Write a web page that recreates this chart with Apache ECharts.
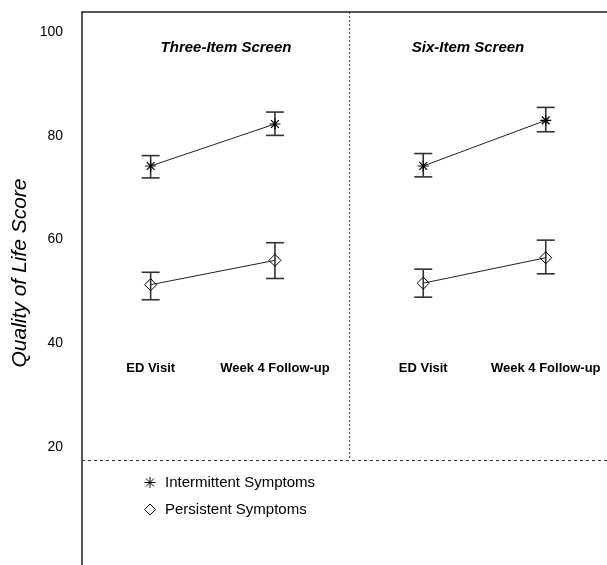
<!DOCTYPE html>
<html>
<head>
<meta charset="utf-8">
<script src="https://cdn.jsdelivr.net/npm/echarts@6/dist/echarts.min.js"></script>
<style>
html,body{margin:0;padding:0;background:#fff;}
#chart{width:607px;height:565px;}
</style>
</head>
<body>
<div id="chart"></div>
<script>
// ---- data ----
const categories = ['ED Visit', 'Week 4 Follow-up'];
const panelTitles = ['Three-Item Screen', 'Six-Item Screen'];
const seriesNames = ['Intermittent Symptoms', 'Persistent Symptoms'];
const yAxisTitle = 'Quality of Life Score';
const yTickValues = [20, 40, 60, 80, 100];

const threeIntMean = [74.2, 82.3];
const threeIntLow  = [71.9, 80.1];
const threeIntHigh = [76.2, 84.6];
const threePersMean = [51.3, 56.0];
const threePersLow  = [48.4, 52.5];
const threePersHigh = [53.7, 59.4];

const sixIntMean = [74.2, 83.0];
const sixIntLow  = [72.1, 80.8];
const sixIntHigh = [76.6, 85.5];
const sixPersMean = [51.6, 56.5];
const sixPersLow  = [48.9, 53.4];
const sixPersHigh = [54.3, 59.9];

const baselineValue = 17.5;

// ---- layout / style ----
const Y_MIN = -2.76, Y_MAX = 103.9;
const FONT = 'Liberation Sans, Arial, sans-serif';
const CAP = 18;
const asteriskPath = 'path://M0,-10 L0,10 M-10,0 L10,0 M-7.07,-7.07 L7.07,7.07 M-7.07,7.07 L7.07,-7.07';
const diamondPath = 'path://M0,-10 L10,0 L0,10 L-10,0 Z';
const panelLeft = [88.5, 362];
const panelWidth = 248.6;

const chart = echarts.init(document.getElementById('chart'));

function errorBar(params, api) {
  const x = api.value(0), lo = api.value(1), hi = api.value(2);
  const pLo = api.coord([x, lo]), pHi = api.coord([x, hi]);
  const h = CAP / 2;
  const st = {stroke: '#333', lineWidth: 1.6};
  return {type: 'group', children: [
    {type: 'line', shape: {x1: pLo[0], y1: pLo[1], x2: pHi[0], y2: pHi[1]}, style: st},
    {type: 'line', shape: {x1: pLo[0] - h, y1: pLo[1], x2: pLo[0] + h, y2: pLo[1]}, style: st},
    {type: 'line', shape: {x1: pHi[0] - h, y1: pHi[1], x2: pHi[0] + h, y2: pHi[1]}, style: st}
  ]};
}
function ebData(lo, hi) { return categories.map((c, i) => [i, lo[i], hi[i]]); }

const intStyle = {color: 'transparent', borderColor: '#000', borderWidth: 1.2};
const persStyle = {color: 'transparent', borderColor: '#000', borderWidth: 1};

function panelSeries(idx, intMean, intLow, intHigh, persMean, persLow, persHigh) {
  return [
    {type: 'custom', xAxisIndex: idx, yAxisIndex: idx, renderItem: errorBar,
     encode: {x: 0, y: [1, 2]}, data: ebData(intLow, intHigh), silent: true, z: 2},
    {type: 'custom', xAxisIndex: idx, yAxisIndex: idx, renderItem: errorBar,
     encode: {x: 0, y: [1, 2]}, data: ebData(persLow, persHigh), silent: true, z: 2},
    {type: 'line', name: seriesNames[0], xAxisIndex: idx, yAxisIndex: idx, data: intMean,
     symbol: asteriskPath, symbolSize: 11, itemStyle: intStyle,
     lineStyle: {color: '#222', width: 1}, z: 3, animation: false},
    {type: 'line', name: seriesNames[1], xAxisIndex: idx, yAxisIndex: idx, data: persMean,
     symbol: diamondPath, symbolSize: 12, itemStyle: persStyle,
     lineStyle: {color: '#222', width: 1}, z: 3, animation: false}
  ];
}

function panelXAxis(gi) {
  return {type: 'category', gridIndex: gi, data: categories, boundaryGap: true,
    position: 'bottom', offset: -211,
    axisLine: {show: false}, axisTick: {show: false}, splitLine: {show: false},
    axisLabel: {interval: 0, color: '#000', fontFamily: FONT, fontWeight: 'bold', fontSize: 13, margin: 8}};
}
function panelYAxis(gi) {
  return {type: 'value', gridIndex: gi, min: Y_MIN, max: Y_MAX, show: false};
}

const option = {
  animation: false,
  backgroundColor: '#fff',
  grid: [
    {left: panelLeft[0], width: panelWidth, top: 12, bottom: 0},
    {left: panelLeft[1], width: panelWidth, top: 12, bottom: 0},
    {left: 82, right: -10, top: 12, bottom: 0}
  ],
  xAxis: [
    panelXAxis(0), panelXAxis(1),
    {type: 'value', gridIndex: 2, min: 0, max: 1, position: 'top',
     axisLine: {show: true, onZero: false, lineStyle: {color: '#222', width: 1.5}},
     axisTick: {show: false}, axisLabel: {show: false}, splitLine: {show: false}}
  ],
  yAxis: [
    panelYAxis(0), panelYAxis(1),
    {type: 'value', gridIndex: 2, min: Y_MIN, max: Y_MAX,
     axisLine: {show: true, onZero: false, lineStyle: {color: '#222', width: 1.5}},
     axisTick: {show: false}, splitLine: {show: false},
     axisLabel: {customValues: yTickValues, color: '#000', fontFamily: FONT, fontSize: 14, margin: 19}}
  ],
  legend: {
    orient: 'vertical', left: 139, top: 470, itemWidth: 20, itemHeight: 11, itemGap: 12,
    textStyle: {fontFamily: FONT, fontSize: 15, color: '#000'},
    data: [
      {name: seriesNames[0], icon: asteriskPath, itemStyle: {color: 'transparent', borderColor: '#000', borderWidth: 1}},
      {name: seriesNames[1], icon: diamondPath, itemStyle: {color: 'transparent', borderColor: '#000', borderWidth: 1}}
    ],
    selectedMode: false
  },
  series: [
    ...panelSeries(0, threeIntMean, threeIntLow, threeIntHigh, threePersMean, threePersLow, threePersHigh),
    ...panelSeries(1, sixIntMean, sixIntLow, sixIntHigh, sixPersMean, sixPersLow, sixPersHigh),
    {type: 'line', xAxisIndex: 2, yAxisIndex: 2, data: [], silent: true,
     markLine: {silent: true, symbol: 'none', label: {show: false},
       lineStyle: {color: '#333', type: [3, 3], width: 1.2},
       data: [{yAxis: baselineValue}]}}
  ]
};
chart.setOption(option);

// divider between panels, titles and axis title
const pTop = chart.convertToPixel({gridIndex: 2}, [0, Y_MAX]);
const pBase = chart.convertToPixel({gridIndex: 2}, [0, baselineValue]);
const divX = (panelLeft[0] + panelWidth + panelLeft[1]) / 2;
chart.setOption({
  graphic: [
    {type: 'line', shape: {x1: divX, y1: pTop[1], x2: divX, y2: pBase[1]},
     style: {stroke: '#555', lineWidth: 1.2, lineDash: [2, 2]}, silent: true},
    {type: 'text', x: 226, y: 48, style: {text: panelTitles[0], fontFamily: FONT, fontWeight: 'bold',
      fontStyle: 'italic', fontSize: 15, fill: '#000', align: 'center', verticalAlign: 'middle'}},
    {type: 'text', x: 468, y: 48, style: {text: panelTitles[1], fontFamily: FONT, fontWeight: 'bold',
      fontStyle: 'italic', fontSize: 15, fill: '#000', align: 'center', verticalAlign: 'middle'}},
    {type: 'text', x: 20, y: 273, rotation: Math.PI / 2, style: {text: yAxisTitle, fontFamily: FONT,
      fontStyle: 'italic', fontSize: 21, fill: '#000', align: 'center', verticalAlign: 'middle'}}
  ]
});
</script>
</body>
</html>
